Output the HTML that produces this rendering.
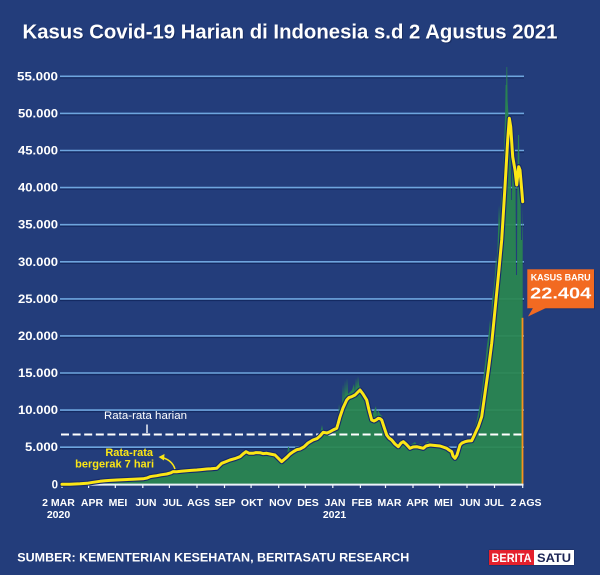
<!DOCTYPE html>
<html>
<head>
<meta charset="utf-8">
<style>
  html,body{margin:0;padding:0;background:#233d7b;}
  svg{display:block;}
  text{font-family:"Liberation Sans",Arial,sans-serif;}
</style>
</head>
<body>
<svg width="600" height="575" viewBox="0 0 600 575" xmlns="http://www.w3.org/2000/svg">
  <rect x="0" y="0" width="600" height="575" fill="#233d7b"/>

  <!-- Title -->
  <text x="23.5" y="39.5" font-size="20" font-weight="bold" fill="#0f1f4d" textLength="535" lengthAdjust="spacingAndGlyphs" opacity="0.6">Kasus Covid-19 Harian di Indonesia s.d 2 Agustus 2021</text>
  <text x="22.5" y="38.5" font-size="20" font-weight="bold" fill="#ffffff" textLength="535" lengthAdjust="spacingAndGlyphs">Kasus Covid-19 Harian di Indonesia s.d 2 Agustus 2021</text>

  <!-- Gridlines -->
  <g stroke-width="1.6">
    <g stroke="#142a62" transform="translate(0,1.4)">
      <line x1="60" y1="447.2" x2="524" y2="447.2"/>
      <line x1="60" y1="410.1" x2="524" y2="410.1"/>
      <line x1="60" y1="373.0" x2="524" y2="373.0"/>
      <line x1="60" y1="335.9" x2="524" y2="335.9"/>
      <line x1="60" y1="298.9" x2="524" y2="298.9"/>
      <line x1="60" y1="261.8" x2="524" y2="261.8"/>
      <line x1="60" y1="224.7" x2="524" y2="224.7"/>
      <line x1="60" y1="187.6" x2="524" y2="187.6"/>
      <line x1="60" y1="150.5" x2="524" y2="150.5"/>
      <line x1="60" y1="113.4" x2="524" y2="113.4"/>
      <line x1="60" y1="76.3" x2="524" y2="76.3"/>
    </g>
    <g stroke="#6ea5de">
      <line x1="60" y1="447.2" x2="524" y2="447.2"/>
      <line x1="60" y1="410.1" x2="524" y2="410.1"/>
      <line x1="60" y1="373.0" x2="524" y2="373.0"/>
      <line x1="60" y1="335.9" x2="524" y2="335.9"/>
      <line x1="60" y1="298.9" x2="524" y2="298.9"/>
      <line x1="60" y1="261.8" x2="524" y2="261.8"/>
      <line x1="60" y1="224.7" x2="524" y2="224.7"/>
      <line x1="60" y1="187.6" x2="524" y2="187.6"/>
      <line x1="60" y1="150.5" x2="524" y2="150.5"/>
      <line x1="60" y1="113.4" x2="524" y2="113.4"/>
      <line x1="60" y1="76.3" x2="524" y2="76.3"/>
    </g>
  </g>

  <!-- Y labels -->
  <g font-size="11.5" font-weight="bold" fill="#ffffff" text-anchor="end">
    <text x="58" y="488.3">0</text>
    <text x="58" y="451.2" textLength="33" lengthAdjust="spacingAndGlyphs">5.000</text>
    <text x="58" y="414.1" textLength="40" lengthAdjust="spacingAndGlyphs">10.000</text>
    <text x="58" y="377.0" textLength="40" lengthAdjust="spacingAndGlyphs">15.000</text>
    <text x="58" y="339.9" textLength="40" lengthAdjust="spacingAndGlyphs">20.000</text>
    <text x="58" y="302.9" textLength="40" lengthAdjust="spacingAndGlyphs">25.000</text>
    <text x="58" y="265.8" textLength="40" lengthAdjust="spacingAndGlyphs">30.000</text>
    <text x="58" y="228.7" textLength="40" lengthAdjust="spacingAndGlyphs">35.000</text>
    <text x="58" y="191.6" textLength="40" lengthAdjust="spacingAndGlyphs">40.000</text>
    <text x="58" y="154.5" textLength="40" lengthAdjust="spacingAndGlyphs">45.000</text>
    <text x="58" y="117.4" textLength="40" lengthAdjust="spacingAndGlyphs">50.000</text>
    <text x="58" y="80.3" textLength="41" lengthAdjust="spacingAndGlyphs">55.000</text>
  </g>

  <!-- Daily cases area -->
  <path fill="#2a8650" fill-opacity="0.93" d="M62,484.5 L62,484 L87,483 L100,481 L117,479.5 L133,478.5 L143,478.5 L150,476 L157,475 L167,473 L177,471 L187,470 L197,469.5 L207,468.5 L217,467.5 L222,462.5 L230,459 L240,455.5 L243,452 L246,450 L250,452 L253,452.5 L256,450 L258,452 L260,451.5 L266,452.5 L270,453 L275,454 L278,457 L281,460.5 L284,457 L287,456 L288,447 L289,447 L290,453 L293,450.5 L296,446 L297,448 L300,447.5 L304,445.5 L306,441 L307,444 L308,441.5 L313,438.5 L316,436 L317,437 L320,434 L322,425 L323,430 L327,431 L330,430 L333,428 L336,426 L338,420 L339,404 L340,414 L342,403 L343,384 L344,400 L345,380 L346,395 L347,378 L348,394 L350,392 L352,390 L354,384 L355,392 L356,378 L357,388 L358,376 L359,385 L360,387 L363,391 L366,397 L368,405 L370,415 L372,416 L374,411 L376,406 L377,416 L378,410 L380,414 L382,416 L384,424 L386,432 L389,436 L391,438 L394,441 L396,443 L398,445 L400,440 L403,440 L406,442 L409,446 L412,444 L415,442 L417,445 L420,444 L423,446 L426,443 L428,441 L430,443 L435,443 L440,444 L444,445 L447,446 L450,448 L452,450 L454,456 L456,452 L458,446 L460,442 L463,440 L466,439 L470,438 L472,435 L474,430 L476,424 L478,414 L480,404 L482,390 L484,372 L485.5,360 L487,345 L488.5,335 L490,320 L491,330 L492,300 L493.5,290 L495,275 L496,255 L497,265 L498,232 L499,205 L500,225 L501,200 L502,190 L503,178 L504,150 L505,118 L505.6,85 L506.2,85 L506.5,67 L507.2,67 L507.6,100 L508.5,115 L509.5,140 L510.5,132 L511.2,200 L512,200 L512.3,140 L513.5,150 L514.5,165 L515.5,175 L516,275 L517,275 L517.3,190 L518,135 L519,135 L519.5,175 L520.5,185 L521,240 L522,240 L522.7,205 L522.7,484.5 Z"/>

  <!-- Last day bar (orange) -->
  <rect x="521.6" y="317.8" width="1.8" height="166.5" fill="#f7941d"/>

  <!-- X axis -->
  <line x1="60" y1="484.6" x2="523.5" y2="484.6" stroke="#eef2fa" stroke-width="2"/>
  <g stroke="#eef2fa" stroke-width="1.2">
    <line x1="62" y1="484" x2="62" y2="488"/>
    <line x1="88.6" y1="484" x2="88.6" y2="488"/>
    <line x1="115.3" y1="484" x2="115.3" y2="488"/>
    <line x1="142.8" y1="484" x2="142.8" y2="488"/>
    <line x1="169.4" y1="484" x2="169.4" y2="488"/>
    <line x1="197" y1="484" x2="197" y2="488"/>
    <line x1="224.5" y1="484" x2="224.5" y2="488"/>
    <line x1="251.1" y1="484" x2="251.1" y2="488"/>
    <line x1="278.7" y1="484" x2="278.7" y2="488"/>
    <line x1="305.3" y1="484" x2="305.3" y2="488"/>
    <line x1="332.8" y1="484" x2="332.8" y2="488"/>
    <line x1="360.4" y1="484" x2="360.4" y2="488"/>
    <line x1="385.5" y1="484" x2="385.5" y2="488"/>
    <line x1="413" y1="484" x2="413" y2="488"/>
    <line x1="439.5" y1="484" x2="439.5" y2="488"/>
    <line x1="467" y1="484" x2="467" y2="488"/>
    <line x1="494.5" y1="484" x2="494.5" y2="488"/>
    <line x1="522.7" y1="484" x2="522.7" y2="488"/>
  </g>

  <!-- X labels -->
  <g font-size="10.5" font-weight="bold" fill="#ffffff" text-anchor="middle">
    <text x="58.5" y="506">2 MAR</text>
    <text x="58.5" y="518">2020</text>
    <text x="92" y="506">APR</text>
    <text x="118" y="506">MEI</text>
    <text x="146" y="506">JUN</text>
    <text x="172.5" y="506">JUL</text>
    <text x="198.5" y="506">AGS</text>
    <text x="225" y="506">SEP</text>
    <text x="252" y="506">OKT</text>
    <text x="280.5" y="506">NOV</text>
    <text x="308" y="506">DES</text>
    <text x="335" y="506">JAN</text>
    <text x="334.5" y="518">2021</text>
    <text x="362" y="506">FEB</text>
    <text x="389.5" y="506">MAR</text>
    <text x="417.5" y="506">APR</text>
    <text x="443.5" y="506">MEI</text>
    <text x="470" y="506">JUN</text>
    <text x="494" y="506">JUL</text>
    <text x="526" y="506">2 AGS</text>
  </g>

  <!-- Average daily dashed line -->
  <line x1="61" y1="434.5" x2="522" y2="434.5" stroke="#ffffff" stroke-width="2" stroke-dasharray="8,3.6"/>
  <text x="104" y="419" font-size="11" fill="#ffffff" textLength="83" lengthAdjust="spacingAndGlyphs">Rata-rata harian</text>
  <line x1="147" y1="424.5" x2="147" y2="433" stroke="#ffffff" stroke-width="1.4"/>

  <!-- 7-day moving average -->
  <g fill="none" stroke-linejoin="round" stroke-linecap="round">
    <polyline stroke="#15296a" stroke-width="5.2" points="62,484.3 70,484.2 80,483.8 87,483.3 93,482.3 100,481.3 105,480.8 110,480.4 117,480 125,479.6 133,479.2 138,479 143,478.8 147,478 150,476.7 153,476.2 156.7,475.7 161,474.8 166.7,474 171,472.8 173,471.6 176.7,471.7 181,471.3 186.7,470.7 191,470.4 196.7,470 201,469.6 206.7,469 211,468.8 216.7,468.3 219,466 221.7,463.3 226,461.6 230,460 235,458.6 240,456.7 243,454 246,451.7 249,453.2 253.3,453.3 256,452.6 260,452.7 263,453.6 266.7,453.3 270,454 275,455 278,458 281.7,461.7 284,459.6 286.7,457.3 290,454 293.3,451.7 297,449.6 300,449 304,446.8 308,443 313,440 317,438.6 320,436 323.3,432.3 327,433 330,431.7 333,430 336.7,428.3 338,424 340,416.7 343,408 346.7,400 349,397.6 351.7,396.7 355,395 357,393 360,390 363,394 366.7,400 369,410 371.7,420 374,421 376,420 378.3,418.3 380,418.6 381.7,420 384,427 386.7,435 389,438 391.7,440 395,444 398.3,446.7 401,443 403.3,441.7 406,444 410,448.3 413,447 416.7,446.7 420,447.5 423.3,448.3 426,446 430,445 435,445.5 440,446 443,447 446.7,448.3 449,450 451.7,451.7 453,456 455,458.3 457,455 460,445 462,443 465,441.7 468,441 471.7,440.7 474,436 476.7,430 478.3,426.7 481.7,416.7 485,393.3 488.3,370 491.7,343.3 495,310 498.3,276.7 501.7,240 505,186.7 507.7,140 509.3,118.3 510.7,126.7 512.7,156.7 515,170 516.7,185 518.7,166.7 520,170 522,193.3 522.7,201.7"/>
    <polyline stroke="#fbe615" stroke-width="3" points="62,484.3 70,484.2 80,483.8 87,483.3 93,482.3 100,481.3 105,480.8 110,480.4 117,480 125,479.6 133,479.2 138,479 143,478.8 147,478 150,476.7 153,476.2 156.7,475.7 161,474.8 166.7,474 171,472.8 173,471.6 176.7,471.7 181,471.3 186.7,470.7 191,470.4 196.7,470 201,469.6 206.7,469 211,468.8 216.7,468.3 219,466 221.7,463.3 226,461.6 230,460 235,458.6 240,456.7 243,454 246,451.7 249,453.2 253.3,453.3 256,452.6 260,452.7 263,453.6 266.7,453.3 270,454 275,455 278,458 281.7,461.7 284,459.6 286.7,457.3 290,454 293.3,451.7 297,449.6 300,449 304,446.8 308,443 313,440 317,438.6 320,436 323.3,432.3 327,433 330,431.7 333,430 336.7,428.3 338,424 340,416.7 343,408 346.7,400 349,397.6 351.7,396.7 355,395 357,393 360,390 363,394 366.7,400 369,410 371.7,420 374,421 376,420 378.3,418.3 380,418.6 381.7,420 384,427 386.7,435 389,438 391.7,440 395,444 398.3,446.7 401,443 403.3,441.7 406,444 410,448.3 413,447 416.7,446.7 420,447.5 423.3,448.3 426,446 430,445 435,445.5 440,446 443,447 446.7,448.3 449,450 451.7,451.7 453,456 455,458.3 457,455 460,445 462,443 465,441.7 468,441 471.7,440.7 474,436 476.7,430 478.3,426.7 481.7,416.7 485,393.3 488.3,370 491.7,343.3 495,310 498.3,276.7 501.7,240 505,186.7 507.7,140 509.3,118.3 510.7,126.7 512.7,156.7 515,170 516.7,185 518.7,166.7 520,170 522,193.3 522.7,201.7"/>
  </g>

  <!-- Moving average annotation -->
  <g font-size="11" font-weight="bold" fill="#fbe615" text-anchor="end">
    <text x="153" y="456">Rata-rata</text>
    <text x="154" y="467.7">bergerak 7 hari</text>
  </g>
  <path d="M175,469 Q172,460 162,457.5" fill="none" stroke="#fbe615" stroke-width="1.5"/>
  <polygon points="158.5,457 164.5,454 164,460.5" fill="#fbe615"/>

  <!-- Callout -->
  <rect x="528.3" y="270.3" width="66.7" height="39" fill="#132a66" opacity="0.5"/>
  <rect x="527.3" y="269.3" width="66.7" height="39" fill="#f26a21"/>
  <polygon points="533,308 546,308 528,316.5" fill="#f26a21"/>
  <text x="560.7" y="280.5" font-size="9" font-weight="bold" fill="#ffffff" text-anchor="middle" textLength="60" lengthAdjust="spacingAndGlyphs">KASUS BARU</text>
  <text x="560.7" y="298.7" font-size="16" font-weight="bold" fill="#ffffff" text-anchor="middle" textLength="61" lengthAdjust="spacingAndGlyphs">22.404</text>

  <!-- Footer -->
  <text x="17.3" y="561.7" font-size="11.5" font-weight="bold" fill="#ffffff" textLength="392" lengthAdjust="spacingAndGlyphs">SUMBER: KEMENTERIAN KESEHATAN, BERITASATU RESEARCH</text>

  <!-- Logo -->
  <rect x="488.5" y="549.5" width="86" height="16" rx="1.5" fill="#1a2b5e"/>
  <rect x="489" y="550" width="45" height="15" fill="#e4202c"/>
  <rect x="534" y="550" width="40" height="15" fill="#ffffff"/>
  <text x="511.5" y="561.8" font-size="11.5" font-weight="bold" fill="#ffffff" text-anchor="middle" textLength="40" lengthAdjust="spacingAndGlyphs">BERITA</text>
  <text x="554" y="561.8" font-size="11.5" font-weight="bold" fill="#1b2454" text-anchor="middle" textLength="34" lengthAdjust="spacingAndGlyphs">SATU</text>
</svg>
</body>
</html>
